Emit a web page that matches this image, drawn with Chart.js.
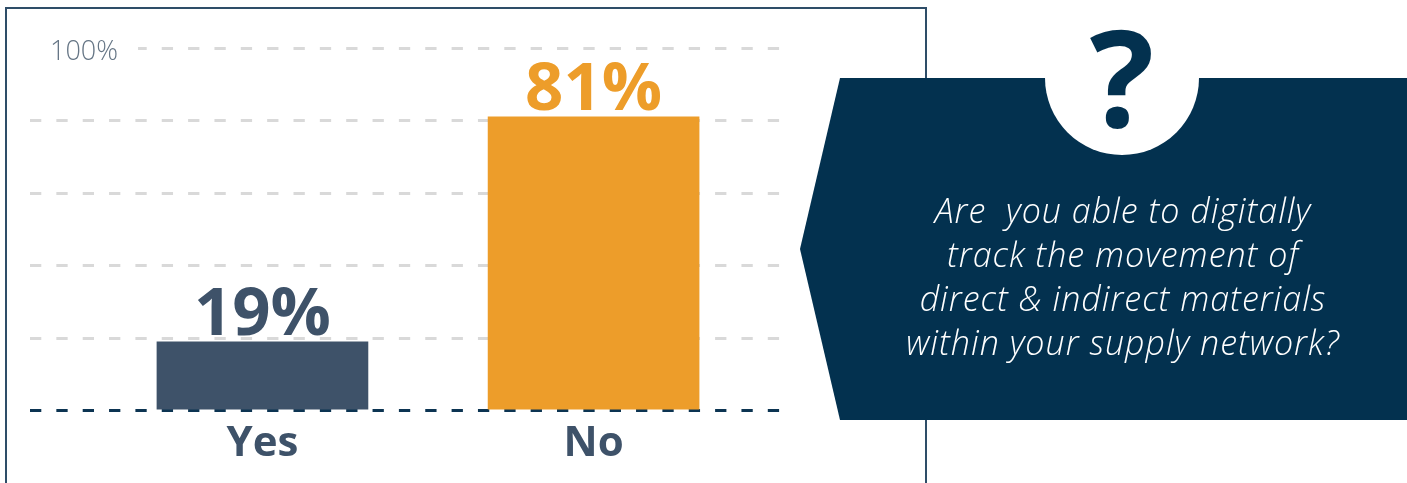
<!DOCTYPE html>
<html>
<head>
<meta charset="utf-8">
<script src="https://cdn.jsdelivr.net/npm/chart.js@4"></script>
<style>
  body { margin: 0; background: #fff; width: 1407px; height: 483px; overflow: hidden; position: relative; font-family: "Open Sans", sans-serif; }
  #frame { position: absolute; left: 5px; top: 7px; width: 918px; height: 500px; border: 2px solid #2e4d68; }
  #chart { position: absolute; left: 0; top: 0; }
  #callout { position: absolute; left: 0; top: 0; }
</style>
</head>
<body>
<div id="frame"></div>
<canvas id="chart" width="1407" height="483"></canvas>
<svg id="callout" width="1407" height="483">
  <polygon points="840,78 1407,78 1407,420 840,420 800,249" fill="#03314f"/>
  <circle cx="1122" cy="78" r="77" fill="#fff"/>
  <text x="1122" y="127" text-anchor="middle" font-family="Open Sans" font-weight="700" font-size="135" fill="#03314f">?</text>
  <text font-family="Open Sans" font-style="italic" font-weight="300" font-size="34" letter-spacing="1" fill="#fff" text-anchor="middle" style="white-space:pre"><tspan x="1123" y="223">Are  you able to digitally</tspan><tspan x="1123" y="267">track the movement of</tspan><tspan x="1123" y="311">direct &amp; indirect materials</tspan><tspan x="1123" y="355">within your supply network?</tspan></text>
</svg>
<script>
const categories = ["Yes", "No"];
const values = [19, 81];
const barColors = ["#3e5269", "#ed9d2a"];
const labelColors = ["#3e5269", "#ed9d2a"];
const yTicks = [0, 20, 40, 60, 80, 100];

// value labels on top of each bar
const barLabels = {
  id: "barLabels",
  afterDatasetsDraw(chart) {
    const ctx = chart.ctx;
    chart.getDatasetMeta(0).data.forEach((bar, i) => {
      ctx.save();
      ctx.font = "bold 67px 'Open Sans'";
      ctx.fillStyle = labelColors[i];
      ctx.textAlign = "center";
      ctx.textBaseline = "alphabetic";
      ctx.fillText(values[i] + "%", bar.x, bar.y - 7);
      ctx.restore();
    });
  }
};

new Chart(document.getElementById("chart"), {
  type: "bar",
  data: {
    datasets: [{
      data: categories.map((c, i) => ({ x: i, y: values[i] })),
      backgroundColor: barColors,
      barThickness: 211
    }]
  },
  options: {
    responsive: false,
    animation: false,
    layout: { padding: { left: 10, right: 626, top: 48, bottom: 14 } },
    plugins: { legend: { display: false }, tooltip: { enabled: false } },
    scales: {
      x: {
        type: "linear",
        offset: false,
        min: -0.702,
        max: 1.566,
        afterBuildTicks: axis => { axis.ticks = categories.map((c, i) => ({ value: i })); },
        grid: { display: false },
        border: { display: false },
        ticks: {
          autoSkip: false,
          maxRotation: 0,
          padding: 0,
          color: "#3e5269",
          font: { family: "Open Sans", size: 42, weight: "bold" },
          callback: v => categories[v] ?? ""
        }
      },
      y: {
        min: 0,
        max: 100,
        afterBuildTicks: axis => { axis.ticks = yTicks.map(v => ({ value: v })); },
        afterFit: axis => { axis.width = 20; },
        border: { display: false, dash: [11.3, 15.05] },
        grid: {
          drawTicks: false,
          lineWidth: 3,
          color: c => c.tick && c.tick.value === 0 ? "#0c3452" : "#d9d9d9"
        },
        ticks: {
          mirror: true,
          padding: 20,
          labelOffset: 4,
          color: "#657585",
          font: { family: "Open Sans", size: 27, weight: "300" },
          callback: v => v === 100 ? v + "%" : "",
          showLabelBackdrop: true,
          backdropColor: c => c.tick && c.tick.value === 100 ? "#ffffff" : "rgba(0,0,0,0)",
          backdropPadding: { left: 20, right: 20, top: 8, bottom: 8 }
        }
      }
    }
  },
  plugins: [barLabels]
});
</script>
</body>
</html>
